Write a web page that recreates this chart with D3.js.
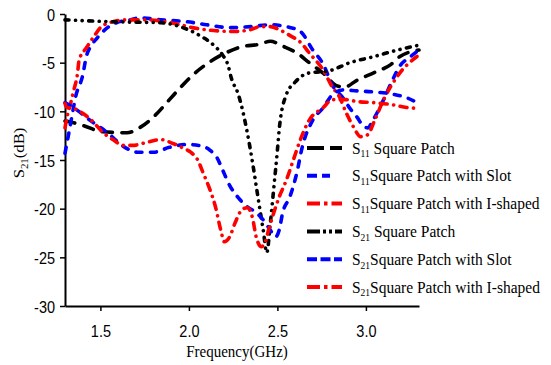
<!DOCTYPE html>
<html>
<head>
<meta charset="utf-8">
<script src="https://cdn.jsdelivr.net/npm/d3@7"></script>
<style>
  html, body { margin: 0; padding: 0; background: #fff; }
  svg { display: block; }
</style>
</head>
<body>
<svg id="chart" width="551" height="365"></svg>
<script>
// Frequency sweep (GHz) and S-parameter traces (dB), one pair of arrays per trace.
const s11SquareF = [1.30,1.33,1.41,1.51,1.65,1.72,1.81,1.89,1.95,2.02,2.12,2.22,2.29,2.40,2.46,2.53,2.61,2.68,2.76,2.84,2.88,2.95,3.05,3.14,3.19,3.30];
const s11SquareDb = [-11.0,-11.1,-11.5,-12.1,-12.2,-11.7,-10.4,-8.8,-7.6,-6.3,-4.9,-3.9,-3.4,-3.1,-2.8,-3.3,-4.0,-5.0,-6.1,-7.4,-7.5,-6.8,-6.0,-5.2,-4.4,-3.7];

const s11SlotF = [1.30,1.32,1.34,1.36,1.40,1.42,1.45,1.48,1.54,1.59,1.67,1.72,1.84,1.99,2.10,2.23,2.35,2.46,2.55,2.63,2.70,2.76,2.81,2.87,2.91,2.95,2.98,3.01,3.04,3.10,3.15,3.19,3.25,3.30];
const s11SlotDb = [-14.3,-12.4,-10.4,-8.5,-6.3,-4.4,-3.2,-2.5,-1.4,-0.9,-0.6,-0.4,-0.6,-0.8,-1.1,-1.4,-1.3,-1.1,-1.3,-1.8,-3.7,-5.2,-7.3,-8.6,-9.7,-10.6,-11.4,-11.7,-10.9,-8.8,-6.8,-5.4,-4.4,-3.7];

const s11IShapedF = [1.30,1.31,1.33,1.35,1.37,1.38,1.42,1.46,1.50,1.55,1.65,1.76,1.95,2.02,2.14,2.25,2.35,2.40,2.46,2.51,2.57,2.63,2.68,2.76,2.81,2.85,2.89,2.93,2.97,3.01,3.05,3.10,3.19,3.30];
const s11IShapedDb = [-11.7,-10.7,-9.3,-7.8,-6.2,-4.7,-3.5,-2.4,-1.4,-0.9,-0.6,-0.6,-1.1,-1.4,-1.7,-1.8,-1.6,-1.3,-1.3,-1.6,-2.2,-2.9,-4.0,-5.8,-7.5,-8.5,-10.2,-11.6,-12.6,-12.4,-10.9,-8.8,-6.1,-4.2];

const s21SquareF = [1.30,1.57,1.84,1.95,2.06,2.14,2.19,2.22,2.24,2.28,2.33,2.36,2.39,2.42,2.44,2.46,2.48,2.50,2.51,2.55,2.60,2.67,2.80,2.91,3.04,3.18,3.30];
const s21SquareDb = [-0.6,-0.8,-0.9,-1.3,-2.2,-3.2,-4.2,-5.2,-6.6,-8.3,-12.2,-15.3,-18.8,-22.2,-24.5,-21.5,-17.8,-14.0,-11.9,-8.3,-7.0,-6.1,-5.8,-5.0,-4.4,-3.7,-3.2];

const s21SlotF = [1.30,1.37,1.44,1.54,1.63,1.71,1.80,1.89,1.99,2.08,2.12,2.16,2.19,2.23,2.28,2.33,2.38,2.43,2.46,2.49,2.51,2.53,2.57,2.61,2.64,2.70,2.76,2.81,2.87,2.95,3.04,3.14,3.23,3.30];
const s21SlotDb = [-9.1,-9.9,-10.9,-12.2,-13.6,-14.2,-14.2,-13.7,-13.4,-13.6,-14.0,-14.8,-16.0,-17.6,-18.9,-19.8,-20.4,-21.4,-22.2,-22.9,-22.2,-20.4,-18.8,-16.3,-13.7,-10.9,-9.6,-8.3,-7.8,-7.9,-8.0,-8.2,-8.6,-9.2];

const s21IShapedF = [1.30,1.31,1.35,1.40,1.46,1.51,1.57,1.63,1.68,1.76,1.84,1.91,1.97,2.01,2.05,2.08,2.12,2.15,2.18,2.20,2.23,2.26,2.30,2.33,2.36,2.38,2.41,2.43,2.45,2.48,2.51,2.55,2.59,2.63,2.68,2.76,2.81,2.89,2.95,3.04,3.14,3.23,3.30];
const s21IShapedDb = [-9.2,-9.6,-9.7,-10.2,-11.1,-12.1,-12.9,-13.5,-13.5,-13.2,-12.9,-13.3,-13.8,-14.2,-15.0,-16.3,-18.1,-19.8,-22.2,-23.4,-22.9,-21.5,-20.1,-19.9,-21.0,-22.9,-23.9,-23.5,-22.2,-20.4,-18.8,-17.1,-15.0,-12.9,-10.9,-9.6,-8.8,-8.8,-9.0,-9.1,-9.3,-9.6,-9.7];

const xTicks = [1.5, 2.0, 2.5, 3.0];
const yTicks = [0, -5, -10, -15, -20, -25, -30];

const seriesNames = ["Square Patch", "Square Patch with Slot", "Square Patch with I-shaped",
                     "Square Patch", "Square Patch with Slot", "Square Patch with I-shaped"];
const seriesSubs = ["11", "11", "11", "21", "21", "21"];

// Trace styles: colour, dash pattern along the curve, and the legend sample.
const styles = [
  { color: "#000000", dash: "10,9.5",                 legendDash: "17,6",            legendLen: 35, gap: true },
  { color: "#0000ff", dash: "6,8.5",                  legendDash: "10,5",            legendLen: 23, gap: false },
  { color: "#ff0000", dash: "7,6.5,0.1,6.5",          legendDash: "13,4,3.5,4",      legendLen: 35, gap: false },
  { color: "#000000", dash: "4,6.5,0.1,6.5,0.1,6.5",  legendDash: "13,3,3,3,3,3",    legendLen: 35, gap: true },
  { color: "#0000ff", dash: "6,8.5",                  legendDash: "10,3.5",          legendLen: 35, gap: false },
  { color: "#ff0000", dash: "7,6.5,0.1,6.5",          legendDash: "13,4,3.5,4",      legendLen: 35, gap: false }
];

const traces = [
  [s11SquareF, s11SquareDb],
  [s11SlotF, s11SlotDb],
  [s11IShapedF, s11IShapedDb],
  [s21SquareF, s21SquareDb],
  [s21SlotF, s21SlotDb],
  [s21IShapedF, s21IShapedDb]
];

const svg = d3.select("#chart");
const plot = { left: 65, right: 419, top: 14, bottom: 306 };
const stretch = 1.15;   // text is drawn slightly tall and narrow

const x = d3.scaleLinear().domain([1.3, 3.3]).range([plot.left, plot.right]);
const y = d3.scaleLinear().domain([-30, 0]).range([plot.bottom, plot.top]);

// Axes
const xAxis = d3.axisBottom(x).tickValues(xTicks).tickFormat(d3.format(".1f"))
  .tickSize(5).tickSizeOuter(0);
const yAxis = d3.axisLeft(y).tickValues(yTicks).tickFormat(d => d)
  .tickSize(5).tickSizeOuter(0).tickPadding(5);

const gx = svg.append("g").attr("transform", `translate(0,${plot.bottom})`).call(xAxis);
const gy = svg.append("g").attr("transform", `translate(${plot.left},0)`).call(yAxis);

[gx, gy].forEach(g => {
  g.select(".domain").attr("stroke", "#000").attr("stroke-width", 2);
  g.selectAll(".tick line").attr("stroke", "#000").attr("stroke-width", 1.5);
  g.selectAll(".tick text")
    .attr("font-family", "Liberation Sans, Arial, sans-serif")
    .attr("font-size", 14.5)
    .attr("fill", "#000");
});
gy.selectAll(".tick text").attr("dy", "0.36em").attr("transform", `scale(1,${stretch})`);
gx.selectAll(".tick text").attr("y", 0).attr("dy", "0.72em")
  .attr("transform", `translate(0,19) scale(1,${stretch})`);

// Curves
const line = d3.line()
  .x(d => x(d[0]))
  .y(d => y(d[1]))
  .curve(d3.curveMonotoneX);

traces.forEach((t, i) => {
  const pts = t[0].map((f, k) => [f, t[1][k]]);
  svg.append("path")
    .datum(pts)
    .attr("d", line)
    .attr("fill", "none")
    .attr("stroke", styles[i].color)
    .attr("stroke-width", 3.6)
    .attr("stroke-linecap", "round")
    .attr("stroke-dasharray", styles[i].dash);
});

// Legend
const legend = svg.append("g");
const legX = 307, legTextX = 352, legY0 = 148, legStep = 27.8;
seriesNames.forEach((name, i) => {
  const yy = legY0 + i * legStep;
  legend.append("line")
    .attr("x1", legX).attr("x2", legX + styles[i].legendLen)
    .attr("y1", yy).attr("y2", yy)
    .attr("stroke", styles[i].color)
    .attr("stroke-width", 4)
    .attr("stroke-linecap", "butt")
    .attr("stroke-dasharray", styles[i].legendDash);
  const txt = legend.append("text")
    .attr("transform", `translate(${legTextX},${yy + 5.5}) scale(1,${stretch - 0.02})`)
    .attr("font-family", "Liberation Serif, Times New Roman, serif")
    .attr("font-size", 15.5)
    .attr("fill", "#000");
  txt.append("tspan").text("S");
  txt.append("tspan").attr("font-size", 9.5).attr("dy", 3.5).text(seriesSubs[i]);
  txt.append("tspan").attr("dy", -3.5).text((styles[i].gap ? " " : "") + name);
});

// Axis titles
const yTitle = svg.append("text")
  .attr("transform", `translate(24,153) scale(1,${stretch}) rotate(-90)`)
  .attr("text-anchor", "middle")
  .attr("font-family", "Liberation Serif, Times New Roman, serif")
  .attr("font-size", 14.5)
  .attr("fill", "#000");
yTitle.append("tspan").text("S");
yTitle.append("tspan").attr("font-size", 9.5).attr("dy", 3.5).text("21");
yTitle.append("tspan").attr("dy", -3.5).text("(dB)");

svg.append("text")
  .attr("transform", `translate(237,357) scale(1,${stretch})`)
  .attr("text-anchor", "middle")
  .attr("font-family", "Liberation Serif, Times New Roman, serif")
  .attr("font-size", 15)
  .attr("fill", "#000")
  .text("Frequency(GHz)");
</script>
</body>
</html>
